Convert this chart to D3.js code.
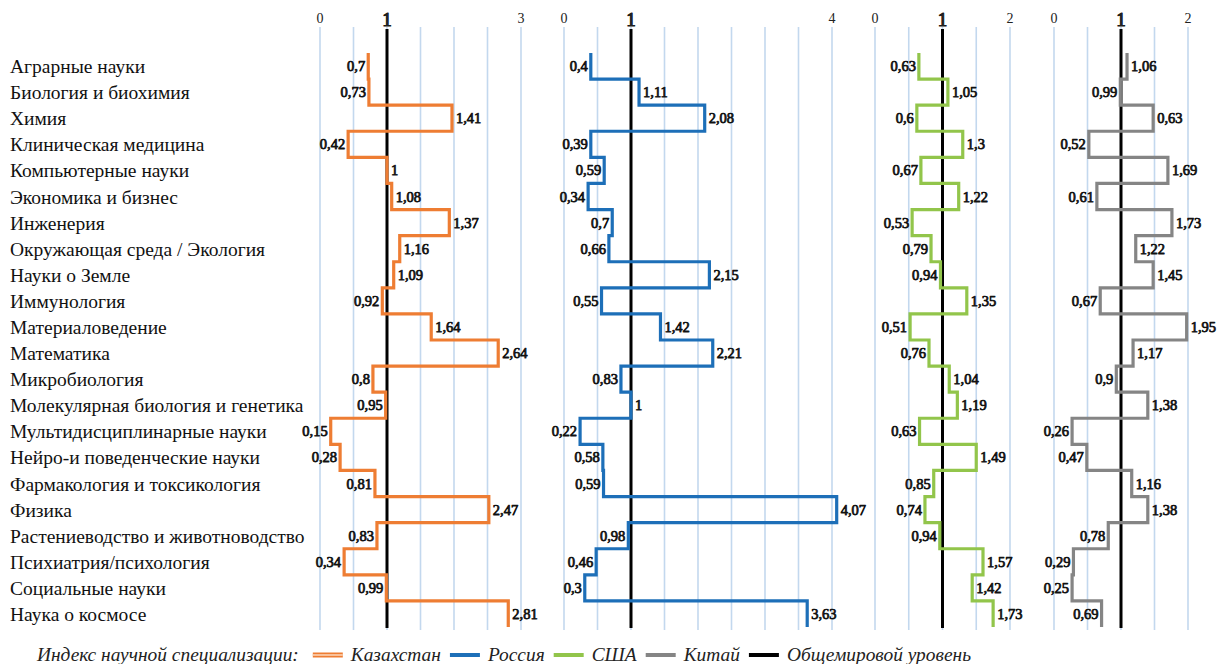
<!DOCTYPE html>
<html><head><meta charset="utf-8">
<script src="https://cdn.jsdelivr.net/npm/d3@7"></script>
<style>body{margin:0;background:#fff} svg{display:block}</style>
</head><body>
<svg id="chart" width="1219" height="664"></svg>
<script>
const categories = [
  "Аграрные науки","Биология и биохимия","Химия","Клиническая медицина",
  "Компьютерные науки","Экономика и бизнес","Инженерия","Окружающая среда / Экология",
  "Науки о Земле","Иммунология","Материаловедение","Математика","Микробиология",
  "Молекулярная биология и генетика","Мультидисциплинарные науки","Нейро-и поведенческие науки",
  "Фармакология и токсикология","Физика","Растениеводство и животноводство",
  "Психиатрия/психология","Социальные науки","Наука о космосе"
];
// plotted positions
const kzValues = [0.72,0.73,1.97,0.42,1.0,1.07,1.93,1.19,1.10,0.93,1.66,2.66,0.79,0.98,0.16,0.30,0.82,2.52,0.85,0.36,0.99,2.81];
const ruValues = [0.40,1.12,2.10,0.40,0.60,0.36,0.72,0.67,2.17,0.56,1.44,2.22,0.85,1.0,0.24,0.58,0.59,4.07,0.96,0.48,0.31,3.63];
const usValues = [0.65,1.08,0.62,1.30,0.68,1.24,0.55,0.83,0.97,1.36,0.52,0.80,1.10,1.22,0.66,1.50,0.87,0.74,0.96,1.60,1.44,1.75];
const cnValues = [1.09,0.99,1.48,0.52,1.70,0.64,1.76,1.22,1.48,0.69,1.98,1.18,0.93,1.40,0.27,0.49,1.16,1.40,0.81,0.29,0.27,0.71];
// printed value labels
const kzLabels = ["0,7","0,73","1,41","0,42","1","1,08","1,37","1,16","1,09","0,92","1,64","2,64","0,8","0,95","0,15","0,28","0,81","2,47","0,83","0,34","0,99","2,81"];
const ruLabels = ["0,4","1,11","2,08","0,39","0,59","0,34","0,7","0,66","2,15","0,55","1,42","2,21","0,83","1","0,22","0,58","0,59","4,07","0,98","0,46","0,3","3,63"];
const usLabels = ["0,63","1,05","0,6","1,3","0,67","1,22","0,53","0,79","0,94","1,35","0,51","0,76","1,04","1,19","0,63","1,49","0,85","0,74","0,94","1,57","1,42","1,73"];
const cnLabels = ["1,06","0,99","0,63","0,52","1,69","0,61","1,73","1,22","1,45","0,67","1,95","1,17","0,9","1,38","0,26","0,47","1,16","1,38","0,78","0,29","0,25","0,69"];
// axis tick labels per panel
const kzTicks = [0,1,3];
const ruTicks = [0,1,4];
const usTicks = [0,1,2];
const cnTicks = [0,1,2];
const seriesNames = ["Казахстан","Россия","США","Китай"];
const legendTitle = "Индекс научной специализации:";
const worldLabel = "Общемировой уровень";
const worldLevel = 1;

const panels = [
  {name:seriesNames[0], values:kzValues, labels:kzLabels, ticks:kzTicks, max:3, range:[320,521], color:"#EE7D33"},
  {name:seriesNames[1], values:ruValues, labels:ruLabels, ticks:ruTicks, max:4, range:[564,832], color:"#1D6FB8"},
  {name:seriesNames[2], values:usValues, labels:usLabels, ticks:usTicks, max:2, range:[875,1010], color:"#92C54B"},
  {name:seriesNames[3], values:cnValues, labels:cnLabels, ticks:cnTicks, max:2, range:[1054,1188], color:"#858585"}
];

const svg = d3.select("#chart");
const serif = '"Liberation Serif"';
const y = d3.scaleBand().domain(categories).range([53, 627]).paddingInner(0).paddingOuter(0);
const bw = y.bandwidth();

// faux-bold helper (regular serif face + thin stroke)
function boldish(sel, w) {
  return sel.style("font-weight", "normal").attr("stroke", "#111").attr("stroke-width", w)
    .attr("stroke-linejoin", "round").attr("paint-order", "stroke");
}

// category labels
svg.append("g").selectAll("text").data(categories).join("text")
  .attr("x", 10).attr("y", d => y(d) + bw/2 + 7)
  .style("font-family", serif).style("font-size", "19.5px").attr("fill", "#111")
  .text(d => d);

panels.forEach(p => {
  const x = d3.scaleLinear().domain([0, p.max]).range(p.range);
  const g = svg.append("g");
  const grid = d3.range(0, p.max + 0.001, 0.5);
  g.selectAll("line.grid").data(grid).join("line").attr("class","grid")
    .attr("x1", d => x(d)).attr("x2", d => x(d)).attr("y1", 27).attr("y2", 630)
    .attr("stroke", "#C3D8EE").attr("stroke-width", 1.6);
  // tick labels
  const tk = g.selectAll("text.tick").data(p.ticks).join("text").attr("class","tick")
    .attr("x", d => x(d)).attr("y", d => d === worldLevel ? 26 : 23)
    .attr("text-anchor", "middle").style("font-family", serif)
    .style("font-size", d => d === worldLevel ? "19px" : "14px")
    .attr("fill", "#222").text(d => d);
  boldish(tk.filter(d => d === worldLevel), 1.1);
  // world level
  g.append("line").attr("x1", x(worldLevel)).attr("x2", x(worldLevel))
    .attr("y1", 29).attr("y2", 628).attr("stroke", "#000").attr("stroke-width", 3);
  // step line
  const pts = categories.map((c, i) => ({v: p.values[i], y: y(c)}));
  pts.push({v: p.values[p.values.length - 1], y: y(categories[categories.length - 1]) + bw});
  const line = d3.line().x(d => x(d.v)).y(d => d.y).curve(d3.curveStepBefore);
  g.append("path").attr("d", line(pts)).attr("fill", "none")
    .attr("stroke", p.color).attr("stroke-width", 3.2);
  // value labels
  const vl = g.selectAll("text.val").data(categories).join("text").attr("class","val")
    .attr("x", (c, i) => p.values[i] < worldLevel ? x(p.values[i]) - 3 : x(p.values[i]) + 4)
    .attr("y", c => y(c) + bw/2 + 5)
    .attr("text-anchor", (c, i) => p.values[i] < worldLevel ? "end" : "start")
    .style("font-family", serif).style("font-size", "14.5px")
    .attr("fill", "#111").text((c, i) => p.labels[i]);
  boldish(vl, 0.75);
});

// legend
const leg = svg.append("g");
const ly = 661;
let lx = 37;
function legText(x, s) {
  return leg.append("text").attr("x", x).attr("y", ly)
    .style("font-family", serif).style("font-style", "italic").style("font-size", "19.4px")
    .attr("fill", "#222").text(s);
}
const t0 = legText(lx, legendTitle);
lx += t0.node().getComputedTextLength() + 14;
const legendItems = panels.map(p => ({name: p.name, color: p.color}))
  .concat([{name: worldLabel, color: "#000"}]);
legendItems.forEach((it, i) => {
  leg.append("line").attr("x1", lx).attr("x2", lx + 30)
    .attr("y1", ly - 6).attr("y2", ly - 6).attr("stroke", it.color).attr("stroke-width", i === 0 ? 5 : 4);
  if (i === 0) {
    leg.append("line").attr("x1", lx).attr("x2", lx + 30)
      .attr("y1", ly - 6).attr("y2", ly - 6).attr("stroke", "#FBD3B5").attr("stroke-width", 1.6);
  }
  lx += 38;
  const t = legText(lx, it.name);
  lx += t.node().getComputedTextLength() + 9;
});
</script>
</body></html>
